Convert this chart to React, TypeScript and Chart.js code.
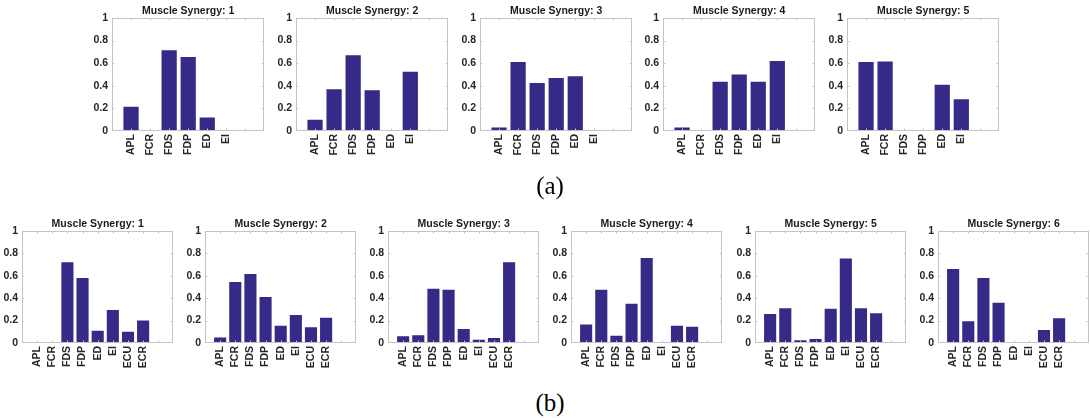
import React, { useEffect, useRef } from "react";
import { Chart, registerables } from "chart.js";

Chart.register(...registerables);

// ---------- data ----------
const musclesA = ["APL", "FCR", "FDS", "FDP", "ED", "EI"];
const musclesB = ["APL", "FCR", "FDS", "FDP", "ED", "EI", "ECU", "ECR"];

const synA1 = [0.215, 0, 0.715, 0.655, 0.12, 0];
const synA2 = [0.1, 0.37, 0.67, 0.36, 0, 0.525];
const synA3 = [0.03, 0.61, 0.425, 0.47, 0.485, 0];
const synA4 = [0.03, 0, 0.435, 0.5, 0.435, 0.62];
const synA5 = [0.61, 0.615, 0, 0, 0.41, 0.28];

const synB1 = [0, 0, 0.72, 0.58, 0.11, 0.295, 0.1, 0.2];
const synB2 = [0.05, 0.545, 0.615, 0.41, 0.155, 0.25, 0.14, 0.225];
const synB3 = [0.06, 0.07, 0.485, 0.475, 0.125, 0.03, 0.045, 0.72];
const synB4 = [0.165, 0.475, 0.065, 0.35, 0.76, 0, 0.155, 0.145];
const synB5 = [0.26, 0.31, 0.025, 0.035, 0.305, 0.755, 0.31, 0.265];
const synB6 = [0.66, 0.195, 0.58, 0.36, 0, 0, 0.115, 0.22];

const synergiesA = [synA1, synA2, synA3, synA4, synA5];
const synergiesB = [synB1, synB2, synB3, synB4, synB5, synB6];

const yTickValues = [0, 0.2, 0.4, 0.6, 0.8, 1];
const yTickLabels = ["0", "0.2", "0.4", "0.6", "0.8", "1"];
const titlePrefix = "Muscle Synergy: ";
const panelLabelA = "(a)";
const panelLabelB = "(b)";

// ---------- layout & style ----------
const ROW_A = { lefts: [112, 296, 480, 663, 847], top: 18, plotW: 158, plotH: 113 };
const ROW_B = { lefts: [22, 205, 388, 571, 755, 938], top: 231, plotW: 157, plotH: 112 };
const LY = 34; // y-axis area width
const RP = 10; // right padding
const TH = 18; // title block height
const XH = 42; // x-axis area height

const BAR_COLOR = "#352A87";
const BOX_COLOR = "#c4c4c4";
const TEXT_COLOR = "#262626";
const SANS = "'Liberation Sans', Arial, Helvetica, sans-serif";
const SERIF = "'Liberation Serif', 'Times New Roman', serif";

const boxPlugin = {
  id: "matlabBox",
  afterDatasetsDraw(chart: any) {
    const { ctx, chartArea: a, scales } = chart;
    const l = Math.round(a.left) + 0.5;
    const r = Math.round(a.right) - 0.5;
    const t = Math.round(a.top) + 0.5;
    const b = Math.round(a.bottom) - 0.5;
    ctx.save();
    ctx.strokeStyle = BOX_COLOR;
    ctx.lineWidth = 1;
    ctx.strokeRect(l, t, r - l, b - t);
    const tl = 2;
    ctx.beginPath();
    const xs = scales.x;
    for (let v = Math.ceil(xs.min) + 1; v < xs.max; v++) {
      const px = Math.round(xs.getPixelForValue(v)) + 0.5;
      ctx.moveTo(px, b);
      ctx.lineTo(px, b - tl);
      ctx.moveTo(px, t);
      ctx.lineTo(px, t + tl);
    }
    const ys = scales.y;
    yTickValues.slice(1, -1).forEach((v) => {
      const py = Math.round(ys.getPixelForValue(v)) + 0.5;
      ctx.moveTo(l, py);
      ctx.lineTo(l + tl, py);
      ctx.moveTo(r, py);
      ctx.lineTo(r - tl, py);
    });
    ctx.stroke();
    ctx.restore();
  },
};

type PanelProps = {
  labels: string[];
  values: number[];
  num: number;
  left: number;
  top: number;
  plotW: number;
  plotH: number;
};

function Panel({ labels, values, num, left, top, plotW, plotH }: PanelProps) {
  const ref = useRef<HTMLCanvasElement>(null);
  const width = LY + plotW + RP;
  const height = TH + plotH + XH;

  useEffect(() => {
    if (!ref.current) return;
    const tickFont = { family: SANS, size: 10.5, weight: "bold" as const };
    const chart = new Chart(ref.current, {
      type: "bar",
      data: {
        datasets: [
          {
            data: values.map((v, i) => ({ x: i + 1, y: v })),
            backgroundColor: BAR_COLOR,
            borderWidth: 0,
            barPercentage: 0.8,
            categoryPercentage: 1,
          },
        ],
      },
      options: {
        responsive: false,
        maintainAspectRatio: false,
        animation: false,
        devicePixelRatio: 1,
        layout: { padding: { left: 0, right: RP, top: 0, bottom: 0 } },
        plugins: {
          legend: { display: false },
          tooltip: { enabled: false },
          title: {
            display: true,
            text: titlePrefix + num,
            fullSize: false,
            color: "#1a1a1a",
            padding: { top: 5, bottom: 1 },
            font: { family: SANS, size: 10.5, weight: "bold", lineHeight: "12px" },
          },
        },
        scales: {
          x: {
            type: "linear",
            min: 0,
            max: labels.length + 2,
            offset: false,
            grid: { display: false, drawTicks: false },
            border: { display: false },
            ticks: {
              stepSize: 1,
              autoSkip: false,
              minRotation: 90,
              maxRotation: 90,
              padding: 3,
              color: TEXT_COLOR,
              font: tickFont,
              callback: (v: any) => labels[Number(v) - 1] ?? "",
            },
            afterFit: (s: any) => {
              s.height = XH;
            },
          },
          y: {
            min: 0,
            max: 1,
            grid: { display: false, drawTicks: false },
            border: { display: false },
            afterBuildTicks: (s: any) => {
              s.ticks = yTickValues.map((v) => ({ value: v }));
            },
            ticks: {
              padding: 4,
              color: TEXT_COLOR,
              font: tickFont,
              callback: (v: any) => {
                const i = yTickValues.findIndex((t) => Math.abs(t - Number(v)) < 1e-6);
                return i >= 0 ? yTickLabels[i] : "";
              },
            },
            afterFit: (s: any) => {
              s.width = LY;
            },
          },
        },
      } as any,
      plugins: [boxPlugin],
    });
    return () => chart.destroy();
  }, [labels, values, num]);

  return (
    <canvas
      ref={ref}
      width={width}
      height={height}
      style={{ position: "absolute", left: left - LY, top: top - TH, width, height }}
    />
  );
}

export default function App() {
  return (
    <div
      style={{
        position: "fixed",
        left: 0,
        top: 0,
        width: 1090,
        height: 418,
        background: "#ffffff",
        overflow: "hidden",
      }}
    >
      {synergiesA.map((vals, i) => (
        <Panel
          key={"a" + i}
          labels={musclesA}
          values={vals}
          num={i + 1}
          left={ROW_A.lefts[i]}
          top={ROW_A.top}
          plotW={ROW_A.plotW}
          plotH={ROW_A.plotH}
        />
      ))}
      {synergiesB.map((vals, i) => (
        <Panel
          key={"b" + i}
          labels={musclesB}
          values={vals}
          num={i + 1}
          left={ROW_B.lefts[i]}
          top={ROW_B.top}
          plotW={ROW_B.plotW}
          plotH={ROW_B.plotH}
        />
      ))}
      <div
        style={{
          position: "absolute",
          left: 450,
          width: 200,
          top: 173,
          textAlign: "center",
          fontFamily: SERIF,
          fontSize: 25,
          lineHeight: "25px",
          color: "#000",
        }}
      >
        {panelLabelA}
      </div>
      <div
        style={{
          position: "absolute",
          left: 450,
          width: 200,
          top: 390,
          textAlign: "center",
          fontFamily: SERIF,
          fontSize: 25,
          lineHeight: "25px",
          color: "#000",
        }}
      >
        {panelLabelB}
      </div>
    </div>
  );
}
